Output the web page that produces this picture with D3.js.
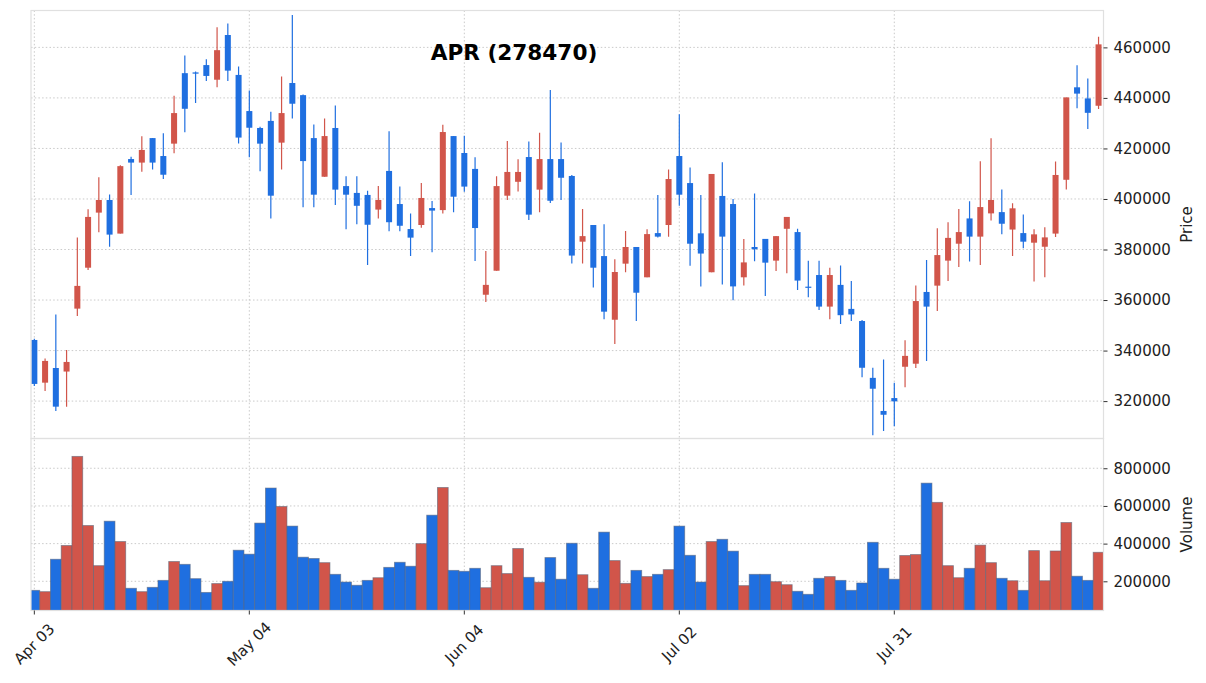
<!DOCTYPE html>
<html>
<head>
<meta charset="utf-8">
<script src="https://cdn.jsdelivr.net/npm/d3@7"></script>
<style>
  html, body { margin: 0; padding: 0; background: #fff; }
  svg { display: block; font-family: "DejaVu Sans", sans-serif; }
</style>
</head>
<body>
<svg id="chart" width="1206" height="683"></svg>
<script>
const title = "APR (278470)";
const tickIndex = [0, 20, 40, 60, 80];
const tickLabels = ["Apr 03", "May 04", "Jun 04", "Jul 02", "Jul 31"];
const priceTicks = [320000, 340000, 360000, 380000, 400000, 420000, 440000, 460000];
const volumeTicks = [200000, 400000, 600000, 800000];

const open = [344200,327300,333100,331700,356600,372800,394600,399600,386300,415800,
  414400,424100,417000,421900,449800,450100,453000,447200,464900,449100,
  434800,428100,430900,422300,445900,441100,424100,408800,428100,405100,
  402400,401600,395800,411100,398000,388100,389700,396400,395600,424900,
  418200,411900,362100,371600,401300,406800,416600,403700,415800,415800,
  409100,383100,389700,377400,352200,374400,381000,369000,386500,389700,
  417000,406300,386400,371000,401200,398000,369000,381000,384200,375600,
  388200,386900,365300,369900,357400,366000,356500,351700,329200,316100,
  321200,333600,334800,363200,365700,375600,382300,392300,385100,394300,
  394800,387900,386500,382700,381100,386300,407600,444200,439800,436900];
const high = [344700,336900,354300,340200,384800,395900,408600,401800,413400,416700,
  424800,424100,426000,440900,456800,450500,455300,468000,469500,452400,
  442900,428600,434500,448500,472800,441400,429500,431900,437000,409000,
  409000,403300,405100,426800,404900,394300,406300,399200,429400,424900,
  425000,416500,379400,409000,422900,415700,422800,426200,443100,422400,
  409500,396000,389700,390000,376100,387300,381000,388000,401600,411700,
  433500,412500,401600,409900,414500,400000,384200,402200,384200,385300,
  392900,388200,375600,375600,372800,373700,367500,352100,333200,336500,
  327300,344100,365800,375800,388400,390800,396000,399100,414900,424000,
  403800,398300,393900,388000,388800,414800,440200,452900,447700,464200];
const low = [326000,324000,316100,317800,353700,371900,386800,381100,386300,401600,
  410800,411700,407900,418100,426400,438000,446700,444200,446700,422000,
  416500,411000,392300,411700,431900,396700,396700,408800,397600,388000,
  390000,373900,392300,387200,387200,377400,388600,378900,394300,394700,
  402900,375500,359200,371600,399600,403000,391700,394700,398400,399600,
  374500,374500,365000,352400,342600,371000,351700,369000,384800,385100,
  397300,373600,365400,371000,366200,359900,365800,375400,361600,371500,
  370600,364000,361100,356100,352400,350500,351700,329400,306500,308200,
  310000,325500,333100,335900,355700,367500,373100,375300,373900,391500,
  386000,377400,380500,367300,369000,385000,403800,435900,427700,435600];
const close = [326800,335900,317800,335500,365600,392900,399600,385900,413000,414400,
  419400,414400,409600,434000,435700,449600,448700,458900,450800,424300,
  428200,421900,401300,434000,437700,415000,401700,424900,403700,401700,
  397300,389800,399600,390800,389400,384700,400400,395400,426500,400900,
  404900,388500,366000,405100,410700,410700,393800,415800,399300,408400,
  377600,385300,372800,355400,371100,381000,362900,386100,385100,407900,
  401700,382300,378400,409900,385100,365400,374900,380100,374800,385300,
  392900,367700,365000,357400,369900,354000,354300,333200,324900,314600,
  319900,337900,359600,357400,377800,384600,386900,385100,396800,399600,
  390200,396300,383100,386000,384800,409500,440200,441700,434100,461200];
const volume = [152000,145000,317000,390000,863000,496000,283000,519000,411000,163000,
  145000,168000,205000,305000,290000,214000,141000,188000,200000,365000,
  344000,509000,695000,597000,493000,328000,321000,299000,237000,196000,
  179000,205000,219000,274000,301000,280000,400000,551000,698000,258000,
  253000,269000,166000,283000,241000,374000,221000,195000,326000,211000,
  402000,235000,163000,461000,310000,189000,258000,225000,237000,262000,
  493000,338000,196000,411000,423000,360000,177000,237000,237000,198000,
  182000,147000,131000,216000,225000,205000,152000,191000,407000,269000,
  211000,337000,342000,721000,619000,283000,219000,269000,392000,299000,
  216000,203000,152000,363000,203000,361000,512000,227000,205000,354000];

const UP = "#d1554a", DOWN = "#1f6fe0";
const svg = d3.select("#chart");
const L = 31, R = 1103.5;
const pTop = 10.5, pBot = 438.5, vTop = 438.5, vBot = 610.5;
const n = close.length;

const x = d3.scaleLinear().domain([-0.31, 99.46]).range([L, R]);
const step = x(1) - x(0);
const yP = d3.scaleLinear().domain([305200, 474600]).range([pBot, pTop]);
const yV = d3.scaleLinear().domain([45000, 958000]).range([vBot, vTop]);
const colorOf = i => close[i] >= open[i] ? UP : DOWN;

const defs = svg.append("defs");
defs.append("clipPath").attr("id", "clipP").append("rect")
  .attr("x", L).attr("y", pTop).attr("width", R - L).attr("height", pBot - pTop);
defs.append("clipPath").attr("id", "clipV").append("rect")
  .attr("x", L).attr("y", vTop).attr("width", R - L).attr("height", vBot - vTop);

const gridStyle = sel => sel.attr("stroke", "#c4c4c4").attr("stroke-width", 0.9).attr("stroke-dasharray", "1.5,2.2");

// grids
const grid = svg.append("g");
grid.selectAll(".vg").data(tickIndex).join("line")
  .attr("x1", d => x(d)).attr("x2", d => x(d)).attr("y1", pTop).attr("y2", vBot).call(gridStyle);
grid.selectAll(".hp").data(priceTicks).join("line")
  .attr("x1", L).attr("x2", R).attr("y1", d => yP(d)).attr("y2", d => yP(d)).call(gridStyle);
grid.selectAll(".hv").data(volumeTicks).join("line")
  .attr("x1", L).attr("x2", R).attr("y1", d => yV(d)).attr("y2", d => yV(d)).call(gridStyle);

// candles
const idx = d3.range(n);
const cg = svg.append("g").attr("clip-path", "url(#clipP)");
cg.selectAll("line.wick").data(idx).join("line")
  .attr("x1", i => x(i)).attr("x2", i => x(i))
  .attr("y1", i => yP(high[i])).attr("y2", i => yP(low[i]))
  .attr("stroke", colorOf).attr("stroke-width", 1.2);
const bw = step * 0.56;
cg.selectAll("rect.body").data(idx).join("rect")
  .attr("x", i => x(i) - bw / 2).attr("width", bw)
  .attr("y", i => Math.min(yP(open[i]), yP(close[i])))
  .attr("height", i => Math.max(1.2, Math.abs(yP(open[i]) - yP(close[i]))))
  .attr("fill", colorOf);

// volume
const vg = svg.append("g").attr("clip-path", "url(#clipV)");
vg.selectAll("rect").data(idx).join("rect")
  .attr("x", i => x(i) - step / 2).attr("width", step)
  .attr("y", i => yV(volume[i])).attr("height", i => vBot - yV(volume[i]))
  .attr("fill", colorOf).attr("stroke", "#5a6478").attr("stroke-opacity", 0.6).attr("stroke-width", 0.9);

// frames
const frame = svg.append("g").attr("fill", "none").attr("stroke", "#e0e0e0").attr("stroke-width", 1.2);
frame.append("rect").attr("x", L).attr("y", pTop).attr("width", R - L).attr("height", pBot - pTop);
frame.append("rect").attr("x", L).attr("y", vTop).attr("width", R - L).attr("height", vBot - vTop);

// right axes
const axP = d3.axisRight(yP).tickValues(priceTicks).tickFormat(d3.format("d")).tickSize(4).tickPadding(6);
const axV = d3.axisRight(yV).tickValues(volumeTicks).tickFormat(d3.format("d")).tickSize(4).tickPadding(6);
[axP, axV].forEach(ax => {
  const g = svg.append("g").attr("transform", `translate(${R},0)`).call(ax);
  g.select(".domain").remove();
  g.selectAll(".tick line").attr("stroke", "#333").attr("stroke-width", 1);
  g.selectAll(".tick text").attr("fill", "#222").attr("font-size", 15).attr("font-family", "DejaVu Sans");
});

// bottom axis
const xg = svg.append("g");
xg.selectAll("line").data(tickIndex).join("line")
  .attr("x1", d => x(d)).attr("x2", d => x(d)).attr("y1", vBot).attr("y2", vBot + 4)
  .attr("stroke", "#333").attr("stroke-width", 1);
xg.selectAll("text").data(tickIndex).join("text")
  .attr("transform", d => `translate(${x(d)},644) rotate(-45)`)
  .attr("text-anchor", "middle").attr("dominant-baseline", "central")
  .attr("font-size", 15).attr("fill", "#222")
  .text((d, i) => tickLabels[i]);

// axis labels
svg.append("text").attr("transform", `translate(1187,${(pTop + pBot) / 2}) rotate(-90)`)
  .attr("text-anchor", "middle").attr("dominant-baseline", "central")
  .attr("font-size", 15).attr("fill", "#222").text("Price");
svg.append("text").attr("transform", `translate(1187,${(vTop + vBot) / 2}) rotate(-90)`)
  .attr("text-anchor", "middle").attr("dominant-baseline", "central")
  .attr("font-size", 15).attr("fill", "#222").text("Volume");

// title
svg.append("text").attr("x", 514).attr("y", 60).attr("text-anchor", "middle")
  .attr("font-size", 21.6).attr("font-weight", "bold").attr("fill", "#000").text(title);
</script>
</body>
</html>
